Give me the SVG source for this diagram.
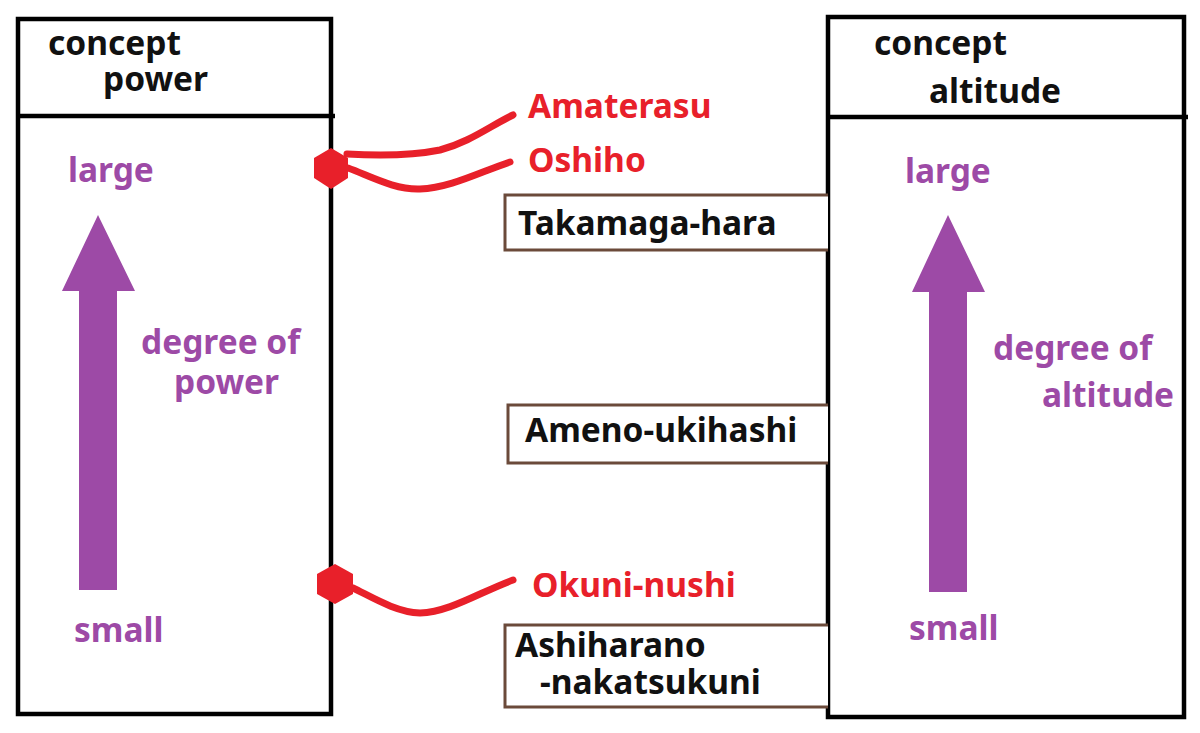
<svg xmlns="http://www.w3.org/2000/svg" width="1200" height="733" viewBox="0 0 1200 733">
<style>
.frame{fill:none;stroke:#000;stroke-width:4.5}
.t{font-family:"Noto Sans","Open Sans","DejaVu Sans",sans-serif;font-weight:bold;font-size:33.5px}
.blk{fill:#111}
.pur{fill:#9d4aa6}
.red{fill:#e8202a}
.lbl{fill:#fff;stroke:#6b4a3a;stroke-width:3}
.link{fill:none;stroke:#e8202a;stroke-width:7;stroke-linecap:round}
.hex{fill:#e8202a}
.arr{fill:#9d4aa6}
</style>
<rect width="1200" height="733" fill="#fff"/>
<g id="concept-power">
<rect class="frame" x="18" y="19" width="313" height="695"/>
<line class="frame" x1="18" y1="116" x2="335" y2="116"/>
<text class="t blk" x="48" y="55">concept</text>
<text class="t blk" x="103" y="91">power</text>
<polygon class="arr" points="98,215 135,291 117,291 117,590 79,590 79,291 62,291"/>
<text class="t pur" x="68" y="182">large</text>
<text class="t pur" x="141" y="354">degree of</text>
<text class="t pur" x="174" y="394">power</text>
<text class="t pur" x="74" y="642">small</text>
</g>
<g id="concept-altitude">
<rect class="frame" x="828" y="17" width="356" height="700"/>
<line class="frame" x1="828" y1="117" x2="1188" y2="117"/>
<text class="t blk" x="874" y="55">concept</text>
<text class="t blk" x="929" y="103">altitude</text>
<polygon class="arr" points="948,215 985,292 967,292 967,592 929,592 929,292 912,292"/>
<text class="t pur" x="905" y="183">large</text>
<text class="t pur" x="993" y="360">degree of</text>
<text class="t pur" x="1042" y="407">altitude</text>
<text class="t pur" x="909" y="640">small</text>
</g>
<g id="connectors">
<path class="link" d="M347,154 C380,156 410,156 440,150 C470,142 490,126 513,115"/>
<path class="link" d="M348,168 C370,176 395,190 420,189 C450,188 480,172 510,162"/>
<path class="link" d="M353,588 C370,596 395,612 420,613 C450,612 480,592 513,580"/>
</g>
<g id="hex-upper">
<polygon class="hex" points="331,148 348,158 348,178 331,189 314,178 314,158"/>
</g>
<g id="hex-lower">
<polygon class="hex" points="335,564 353,574 353,594 335,604 317,594 317,574"/>
</g>
<g id="amaterasu"><text class="t red" x="528" y="118">Amaterasu</text></g>
<g id="oshiho"><text class="t red" x="528" y="172">Oshiho</text></g>
<g id="okuni-nushi"><text class="t red" x="532" y="597">Okuni-nushi</text></g>
<g id="takamaga-hara">
<path class="lbl" d="M828,195 H505 V250 H828"/>
<text class="t blk" x="518" y="235">Takamaga-hara</text>
</g>
<g id="ameno-ukihashi">
<path class="lbl" d="M828,405 H508 V463 H828"/>
<text class="t blk" x="525" y="442">Ameno-ukihashi</text>
</g>
<g id="ashiharano">
<path class="lbl" d="M828,625 H505 V707 H828"/>
<text class="t blk" x="515" y="657">Ashiharano</text>
<text class="t blk" x="540" y="694">-nakatsukuni</text>
</g>
</svg>
